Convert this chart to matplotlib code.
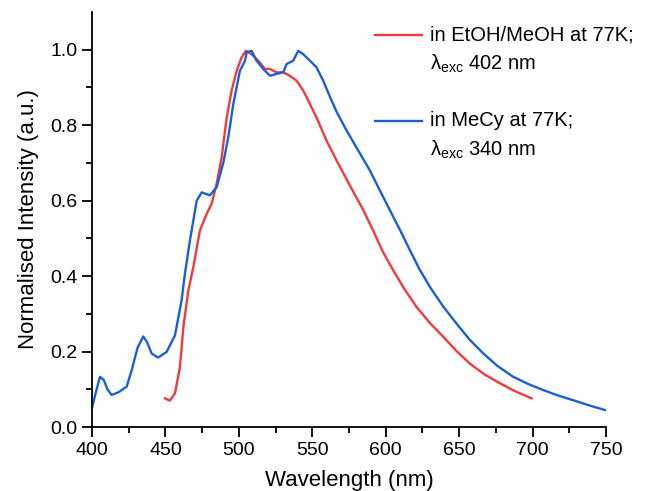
import matplotlib.pyplot as plt

plt.rcParams['font.family'] = ['Liberation Sans', 'DejaVu Sans']
plt.rcParams['mathtext.fontset'] = 'custom'
plt.rcParams['mathtext.rm'] = 'Liberation Sans'
plt.rcParams['mathtext.it'] = 'Liberation Sans:italic'

# emission spectrum in EtOH/MeOH at 77 K
wl_etoh = [449.7, 453, 456.5, 459.9, 462.2, 465.6, 469, 473.5, 478.1, 481.5,
           484.9, 488.3, 491.7, 495.1, 498.5, 501.9, 504.8, 508.7, 513.2, 517.8,
           521.2, 525.7, 530.2, 534.7, 539.3, 543.8, 548.4, 552.9, 559.7, 566.6,
           575.6, 584.7, 591.5, 598, 605.1, 613, 621, 630, 639.2, 648, 657.3,
           667, 677.7, 688, 699.3]
int_etoh = [0.076, 0.07, 0.089, 0.16, 0.265, 0.362, 0.424, 0.521, 0.565, 0.592,
            0.645, 0.715, 0.82, 0.892, 0.944, 0.98, 0.997, 0.988, 0.971, 0.949,
            0.949, 0.94, 0.94, 0.931, 0.918, 0.892, 0.856, 0.82, 0.759, 0.706,
            0.64, 0.575, 0.52, 0.465, 0.415, 0.364, 0.318, 0.276, 0.239, 0.202,
            0.168, 0.14, 0.116, 0.095, 0.076]

# emission spectrum in MeCy at 77 K
wl_mecy = [400, 402.5, 405.4, 408, 410.5, 413.4, 418, 423.6, 427, 431, 434.9,
           437.5, 440.6, 445, 450.8, 456.5, 461, 463.3, 466.7, 471.3, 474.7,
           480.3, 484.9, 489.4, 492.8, 496.2, 500.7, 504.2, 505.3, 508.7, 512,
           516.6, 521.2, 525.7, 530.2, 532.5, 537, 540.4, 543.8, 548.4, 552.9,
           557.4, 562, 566.6, 573.3, 580.2, 589.2, 596, 602.9, 610, 616.5, 623,
           630.1, 639, 648.2, 657, 666.4, 676, 686.8, 697, 707.2, 717, 727.6,
           738, 749.2]
int_mecy = [0.05, 0.09, 0.133, 0.125, 0.1, 0.085, 0.092, 0.107, 0.15, 0.21, 0.24,
            0.225, 0.195, 0.184, 0.199, 0.243, 0.336, 0.407, 0.495, 0.6, 0.622,
            0.614, 0.636, 0.7, 0.768, 0.856, 0.944, 0.971, 0.993, 0.997, 0.971,
            0.949, 0.931, 0.936, 0.94, 0.962, 0.971, 0.997, 0.988, 0.971, 0.953,
            0.918, 0.875, 0.835, 0.786, 0.74, 0.68, 0.627, 0.574, 0.52, 0.468,
            0.418, 0.371, 0.32, 0.274, 0.232, 0.195, 0.162, 0.133, 0.114, 0.098,
            0.084, 0.071, 0.058, 0.045]

labels = ['in EtOH/MeOH at 77K;\nλ$_{\\mathrm{exc}}$ 402 nm',
          'in MeCy at 77K;\nλ$_{\\mathrm{exc}}$ 340 nm']

fig = plt.figure(figsize=(6.51, 4.91), dpi=100)
ax = fig.add_axes([0.1413, 0.1303, 0.7897, 0.8453])

ax.plot(wl_etoh, int_etoh, color='#f23a3a', lw=1.7, label=labels[0])
ax.plot(wl_mecy, int_mecy, color='#1a5fd8', lw=1.7, label=labels[1])

ax.set_xlim(400, 750)
ax.set_ylim(0, 1.1)
ax.set_xticks([400, 450, 500, 550, 600, 650, 700, 750])
ax.set_xticks(range(425, 750, 50), minor=True)
ax.set_yticks([0.0, 0.2, 0.4, 0.6, 0.8, 1.0])
ax.set_yticks([0.1, 0.3, 0.5, 0.7, 0.9], minor=True)
ax.yaxis.set_major_formatter(plt.FormatStrFormatter('%.1f'))

for s in ['top', 'right']:
    ax.spines[s].set_visible(False)
for s in ['left', 'bottom']:
    ax.spines[s].set_linewidth(1.3)
ax.tick_params(which='major', direction='out', length=7, width=1.3, labelsize=14)
ax.tick_params(which='minor', direction='out', length=4, width=1.3)

ax.set_xlabel('Wavelength (nm)', fontsize=16, labelpad=8)
ax.set_ylabel('Normalised Intensity (a.u.)', fontsize=16, labelpad=8)

leg = ax.legend(loc='upper left', bbox_to_anchor=(0.516, 1.012), frameon=False,
                fontsize=14.5, handlelength=2.3, handletextpad=0.4,
                labelspacing=1.8)
for t in leg.get_texts():
    t.set_linespacing(1.5)
# put the legend line next to the first text line, not the middle
for ln in leg.get_lines():
    ln.set_ydata(ln.get_ydata() + 11)

fig.savefig('out.png')
